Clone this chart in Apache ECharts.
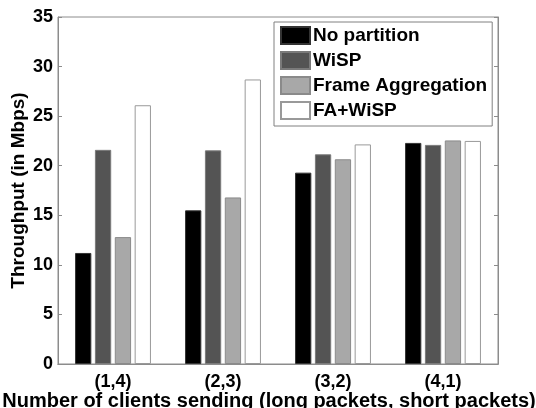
<!DOCTYPE html>
<html>
<head>
<meta charset="utf-8">
<script src="https://cdn.jsdelivr.net/npm/echarts@6/dist/echarts.min.js"></script>
<style>html,body{margin:0;padding:0;background:#fff}#c{width:536px;height:408px}</style>
</head>
<body>
<div id="c"></div>
<script>
const categories = ['(1,4)', '(2,3)', '(3,2)', '(4,1)'];
const seriesNames = ['No partition', 'WiSP', 'Frame Aggregation', 'FA+WiSP'];
const noPartition = [11.2, 15.5, 19.3, 22.3];
const wisp = [21.6, 21.55, 21.15, 22.1];
const frameAgg = [12.8, 16.8, 20.65, 22.55];
const faWisp = [26.1, 28.7, 22.15, 22.5];
const yTicks = [0, 5, 10, 15, 20, 25, 30, 35];

const fills = ['#000000', '#545454', '#a8a8a8', '#ffffff'];
const borders = ['#333333', '#7a7a7a', '#8a8a8a', '#999999'];
const values = [noPartition, wisp, frameAgg, faWisp];
const font = 'Liberation Sans, Arial, sans-serif';
const axisGray = '#8c8c8c';

const chart = echarts.init(document.getElementById('c'), null, {renderer: 'canvas'});
chart.setOption({
  animation: false,
  backgroundColor: '#fff',
  grid: {left: 58, right: 38, top: 17, bottom: 44, show: true, borderColor: axisGray, borderWidth: 1,
    containLabel: false, outerBoundsMode: 'none'},
  legend: {
    orient: 'vertical', left: 274, top: 22,
    itemWidth: 29, itemHeight: 17, itemGap: 6, icon: 'rect',
    padding: [4, 5, 6, 6],
    borderColor: '#808080', borderWidth: 1, backgroundColor: '#fff',
    textStyle: {fontFamily: font, fontWeight: 'bold', fontSize: 19, lineHeight: 17, color: '#000', padding: [0, 0, 0, -2]},
    data: seriesNames
  },
  xAxis: [{
    type: 'category', data: categories,
    axisLine: {lineStyle: {color: axisGray}},
    axisTick: {inside: true, alignWithLabel: true, length: 4, lineStyle: {color: axisGray}},
    axisLabel: {fontFamily: font, fontWeight: 'bold', fontSize: 18, color: '#000', margin: 9},
    name: 'Number of clients sending (long packets, short packets)',
    nameLocation: 'middle', nameGap: 27, nameMoveOverlap: false,
    nameTextStyle: {fontFamily: font, fontWeight: 'bold', fontSize: 20, color: '#000', padding: [0, 18, 0, 0]}
  }, {
    type: 'category', data: categories, position: 'top',
    axisLine: {lineStyle: {color: axisGray}},
    axisTick: {inside: true, alignWithLabel: true, length: 4, lineStyle: {color: axisGray}},
    axisLabel: {show: false}
  }],
  yAxis: [{
    type: 'value', min: 0, max: 35, interval: 5,
    axisLine: {show: true, lineStyle: {color: axisGray}},
    axisTick: {show: true, inside: true, length: 4, lineStyle: {color: axisGray}},
    splitLine: {show: false},
    axisLabel: {fontFamily: font, fontWeight: 'bold', fontSize: 18, color: '#000', margin: 5,
      formatter: v => yTicks.includes(v) ? String(v) : ''},
    name: 'Throughput (in Mbps)', nameLocation: 'middle', nameGap: 30, nameMoveOverlap: false,
    nameTextStyle: {fontFamily: font, fontWeight: 'bold', fontSize: 19, color: '#000'}
  }, {
    type: 'value', min: 0, max: 35, interval: 5, position: 'right',
    axisLine: {show: true, lineStyle: {color: axisGray}},
    axisTick: {show: true, inside: true, length: 4, lineStyle: {color: axisGray}},
    splitLine: {show: false},
    axisLabel: {show: false}
  }],
  series: seriesNames.map((n, i) => ({
    name: n, type: 'bar', data: values[i],
    barCategoryGap: '31%', barGap: '22%',
    itemStyle: {color: fills[i], borderColor: borders[i], borderWidth: 1}
  }))
});
</script>
</body>
</html>
